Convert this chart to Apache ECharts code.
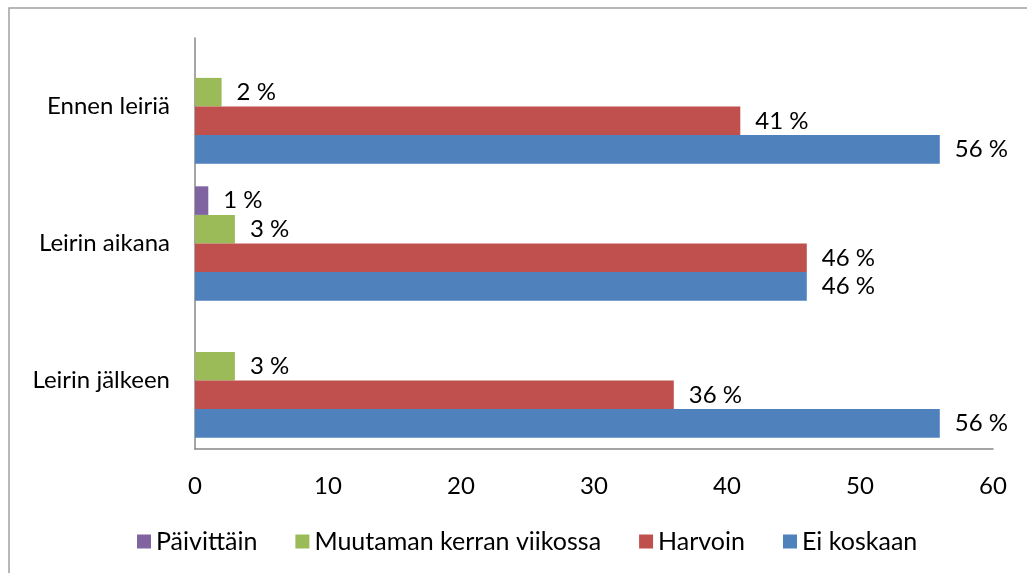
<!DOCTYPE html>
<html><head><meta charset="utf-8">
<script src="https://cdn.jsdelivr.net/npm/echarts@6/dist/echarts.min.js"></script>
<style>html,body{margin:0;padding:0;background:#fff}#c{width:1027px;height:573px}</style>
</head><body><div id="c"></div>
<script>
const categories = ['Leirin jälkeen', 'Leirin aikana', 'Ennen leiriä'];
const seriesNames = ['Päivittäin', 'Muutaman kerran viikossa', 'Harvoin', 'Ei koskaan'];
const paivittain = [0, 1, 0];
const muutaman = [3, 3, 2];
const harvoin = [36, 46, 41];
const eiKoskaan = [56, 46, 56];
const xTicks = [0, 10, 20, 30, 40, 50, 60];

const colors = {'Päivittäin':'#8064A2','Muutaman kerran viikossa':'#9BBB59','Harvoin':'#C0504D','Ei koskaan':'#4F81BD'};
const dataByName = {'Päivittäin':paivittain,'Muutaman kerran viikossa':muutaman,'Harvoin':harvoin,'Ei koskaan':eiKoskaan};
const font = 'Lato, "Open Sans", sans-serif';
const fs = 24;
const chart = echarts.init(document.getElementById('c'));
chart.setOption({
  animation:false,
  textStyle:{fontFamily:font},
  graphic:[{type:'rect',shape:{x:9,y:8,width:1100,height:700},style:{fill:'none',stroke:'#a0a0a0',lineWidth:1.5}}],
  legend:{data:seriesNames,top:524,left:132,itemWidth:14,itemHeight:14,itemGap:38,icon:'rect',
    textStyle:{fontSize:25,color:'#000',fontFamily:font}},
  grid:{left:195,right:34,top:38,bottom:124},
  xAxis:{type:'value',min:xTicks[0],max:xTicks[xTicks.length-1],interval:10,
    axisLine:{show:true,lineStyle:{color:'#888',width:1.5}},axisTick:{show:false},splitLine:{show:false},
    axisLabel:{fontSize:fs,color:'#000',margin:25,fontFamily:font}},
  yAxis:{type:'category',data:categories,
    axisLine:{show:true,lineStyle:{color:'#888',width:1.5}},axisTick:{show:false},
    axisLabel:{fontSize:fs,color:'#000',margin:25,fontFamily:font}},
  series: seriesNames.map(n=>({name:n,type:'bar',data:dataByName[n],barGap:'0%',barCategoryGap:'16.5%',
    itemStyle:{color:colors[n]},
    label:{show:true,position:'right',distance:15,fontSize:fs,color:'#000',fontFamily:font,
      formatter:p=>p.value===0?'':p.value+' %'}}))
});
</script></body></html>
